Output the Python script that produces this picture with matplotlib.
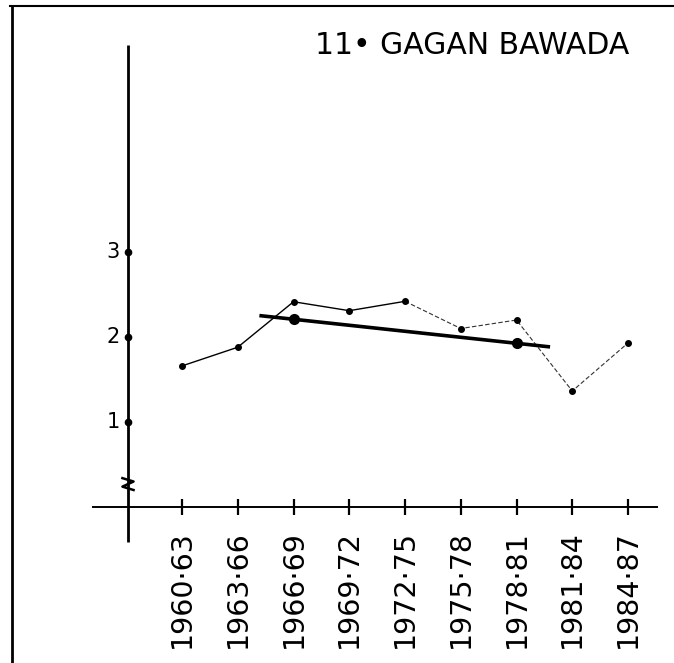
import matplotlib.pyplot as plt
from matplotlib.lines import Line2D

# data
periods = ['1960·63', '1963·66', '1966·69', '1969·72', '1972·75',
           '1975·78', '1978·81', '1981·84', '1984·87']
values = [1.66, 1.88, 2.415, 2.31, 2.42, 2.10, 2.20, 1.365, 1.93]

# trend line (start / end) and the two marked points on it
trend_x = [1.42, 6.57]
trend_y = [2.25, 1.886]
trend_pts_x = [2, 6]
trend_pts_y = [2.209, 1.926]

yticks = [1, 2, 3]
title = '11• GAGAN BAWADA'

fig = plt.figure(figsize=(6.74, 6.63), dpi=100)
ax = fig.add_axes([0, 0, 1, 1])
ax.set_xlim(-3.265, 8.825)
ax.set_ylim(-1.835, 5.965)
ax.axis('off')

xs = list(range(len(periods)))
yaxis_x = -0.969

# axes drawn by hand
ax.plot([yaxis_x, yaxis_x], [-0.41, 5.43], color='black', lw=2, solid_capstyle='butt')
ax.plot([-1.6, 8.52], [0, 0], color='black', lw=1.4)
ax.plot(xs, [0] * len(xs), ls='none', marker='|', ms=12, mew=1.6, color='black')

# y ticks as dots on the axis
ax.plot([yaxis_x] * len(yticks), yticks, ls='none', marker='o', ms=4.5, color='black')
for t in yticks:
    ax.text(yaxis_x - 0.27, t, str(t), ha='center', va='center', fontsize=15)

# axis break zigzag
ax.plot([yaxis_x - 0.1, yaxis_x + 0.1, yaxis_x - 0.1, yaxis_x + 0.1],
        [0.34, 0.30, 0.24, 0.20], color='black', lw=1.8)

# x labels
for x, lab in zip(xs, periods):
    ax.text(x, -0.27, lab, rotation=90, ha='center', va='top', fontsize=20.5)

# series: solid to 1972-75, broken afterwards
ax.plot(xs[:5], values[:5], color='black', lw=1.0)
ax.plot(xs[4:], values[4:], color='#333333', lw=0.8, ls=(0, (4, 2)))
ax.plot(xs, values, ls='none', marker='o', ms=4, color='black')

# trend
ax.plot(trend_x, trend_y, color='black', lw=2.6)
ax.plot(trend_pts_x, trend_pts_y, ls='none', marker='o', ms=7, color='black')

ax.text(0.70, 0.932, title, transform=fig.transFigure, ha='center', va='center',
        fontsize=21.5)

# frame of the page (top and left only)
fig.add_artist(Line2D([10 / 674, 1], [1 - 6 / 663, 1 - 6 / 663],
                      transform=fig.transFigure, color='black', lw=1.5))
fig.add_artist(Line2D([12 / 674, 12 / 674], [0, 1 - 6 / 663],
                      transform=fig.transFigure, color='black', lw=2))

fig.savefig('out.png', dpi=100)
